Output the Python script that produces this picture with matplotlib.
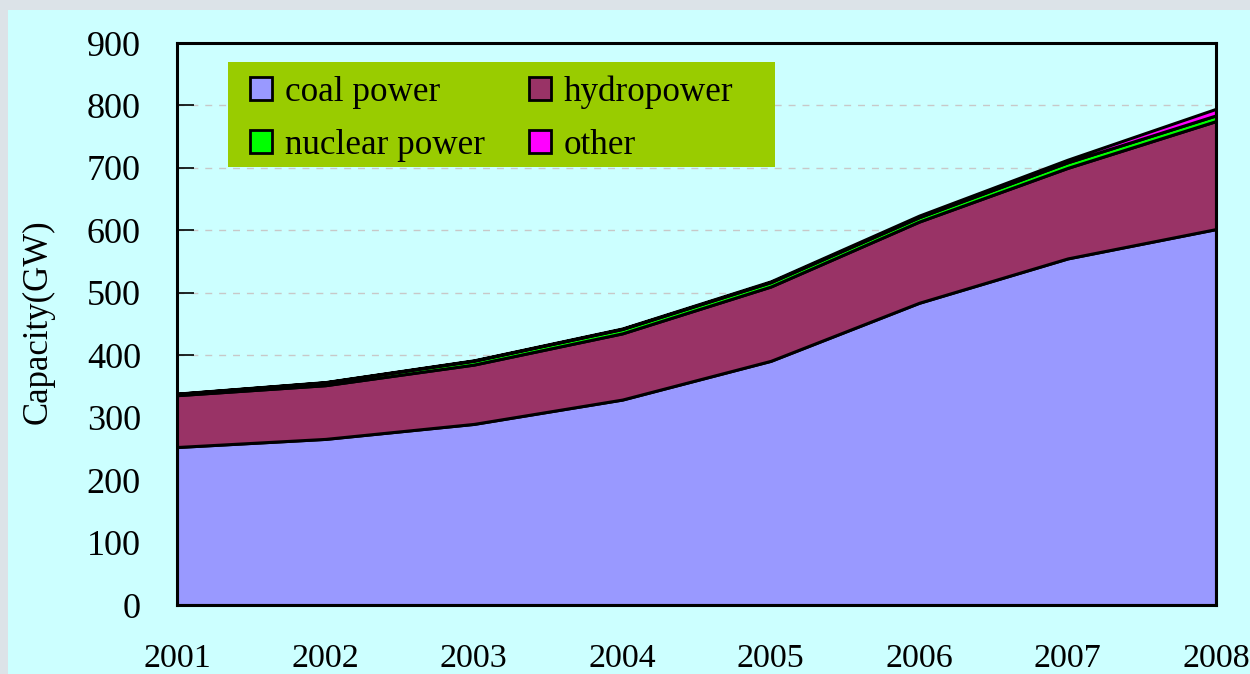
"""
China installed generating capacity by source, 2001-2008 (stacked area).
"""

import matplotlib
matplotlib.use('Agg')
import matplotlib.pyplot as plt
from matplotlib.patches import Rectangle

YEARS   = [2001, 2002, 2003, 2004, 2005, 2006, 2007, 2008]
COAL    = [253, 266, 290, 329, 391, 484, 555, 602]
HYDRO   = [83, 86, 95, 106, 119, 130, 145, 173]
NUCLEAR = [2.1, 4.5, 6.2, 7.0, 7.0, 7.0, 8.9, 9.1]
OTHER   = [0.4, 0.5, 0.6, 0.8, 1.3, 2.6, 4.2, 10.5]
LABELS  = ['coal power', 'hydropower', 'nuclear power', 'other']
COLORS  = ['#9999FF', '#993366', '#00FF00', '#FF00FF']
Y_TICKS = list(range(0, 901, 100))

SERIF = ['Liberation Serif', 'DejaVu Serif']


def main():
    plt.rcParams['font.family'] = SERIF
    fig = plt.figure(figsize=(12.5, 6.74), dpi=100, facecolor='#DCE3E8')
    # light cyan slide panel behind the chart
    panel = Rectangle((8 / 1250, 0), 1, 1 - 10 / 674,
                      transform=fig.transFigure,
                      facecolor='#CCFFFF', edgecolor='none', zorder=-10)
    fig.add_artist(panel)

    ax = fig.add_axes([177 / 1250, 1 - 605 / 674, 1039 / 1250, 562 / 674])
    ax.set_facecolor('#CCFFFF')

    series = [COAL, HYDRO, NUCLEAR, OTHER]
    polys = ax.stackplot(YEARS, *series, colors=COLORS, labels=LABELS,
                         edgecolor='black', linewidth=2.2, zorder=3)

    ax.set_xlim(YEARS[0], YEARS[-1])
    ax.set_ylim(0, 900)
    ax.set_xticks(YEARS)
    ax.set_yticks(Y_TICKS)
    ax.yaxis.grid(True, color='#C8C8C8', linestyle=(0, (5, 5)), linewidth=1)
    ax.set_axisbelow(True)

    ax.tick_params(axis='y', direction='in', length=12, width=1.2,
                   pad=26, labelsize=26)
    ax.tick_params(axis='x', direction='in', length=10, width=1.2,
                   pad=28, labelsize=24.5)
    for s in ax.spines.values():
        s.set_linewidth(2.2)
        s.set_color('black')
        s.set_zorder(5)

    ax.set_ylabel('Capacity(GW)', fontsize=25)
    ax.yaxis.set_label_coords(-0.118, 0.505)

    # olive legend panel, wider than its entries as in the original slide
    ax.add_patch(Rectangle((0.049, 0.779), 0.5265, 0.187, transform=ax.transAxes,
                           facecolor='#99CC00', edgecolor='none', zorder=6))

    # legend order: coal, hydro / nuclear, other (row-wise in two columns)
    order = [0, 2, 1, 3]
    leg = ax.legend([polys[i] for i in order], [LABELS[i] for i in order],
                    ncol=2, loc='upper left',
                    bbox_to_anchor=(0.0703, 0.943),
                    fontsize=25.2, frameon=False,
                    handlelength=0.63, handleheight=0.63, handletextpad=0.37,
                    labelspacing=0.58, borderpad=0, borderaxespad=0,
                    columnspacing=1.25)
    leg.set_zorder(7)
    for h in leg.legend_handles:
        h.set_edgecolor('black')
        h.set_linewidth(2.0)

    fig.savefig('out.png', dpi=100)
    plt.close(fig)


if __name__ == '__main__':
    main()
